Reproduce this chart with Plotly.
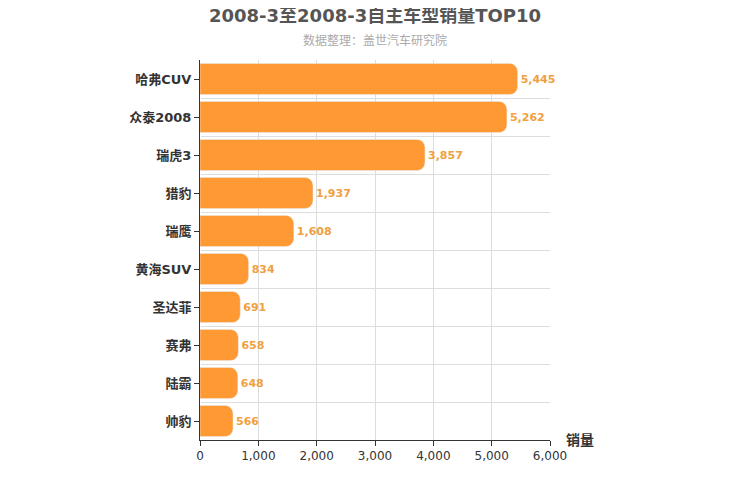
import plotly.graph_objects as go

models = ["哈弗CUV", "众泰2008", "瑞虎3", "猎豹", "瑞鹰", "黄海SUV", "圣达菲", "赛弗", "陆霸", "帅豹"]
sales = [5445, 5262, 3857, 1937, 1608, 834, 691, 658, 648, 566]
xticks = [0, 1000, 2000, 3000, 4000, 5000, 6000]
xticktext = ["0", "1,000", "2,000", "3,000", "4,000", "5,000", "6,000"]

n = len(models)
ypos = list(range(n - 1, -1, -1))

fig = go.Figure(go.Bar(
    x=sales, y=ypos, orientation="h",
    marker=dict(color="#FF9933", cornerradius=8),
    width=0.82,
    text=[f"{v:,}" for v in sales], textposition="outside",
    textfont=dict(color="#F0A040", size=11, family="DejaVu Sans", weight="bold"),
    cliponaxis=False,
))
fig.update_layout(
    width=750, height=500, plot_bgcolor="white", paper_bgcolor="white",
    margin=dict(l=192, r=208, t=52, b=68),
    font=dict(family="DejaVu Sans, Noto Sans CJK SC", color="#333"),
    showlegend=False,
)
fig.update_xaxes(range=[0, 6000], tickvals=xticks, ticktext=xticktext,
                 showgrid=True, gridcolor="#DDDDDD", showline=True, linecolor="#333",
                 ticks="outside", ticklen=5, tickcolor="#333",
                 tickfont=dict(size=12, color="#333"))
fig.update_yaxes(range=[-0.5, n - 0.5], tickvals=ypos, ticktext=models,
                 showgrid=False, showline=True, linecolor="#333",
                 ticks="outside", ticklen=5, tickcolor="#333",
                 tickfont=dict(size=13, color="#333", weight="bold"),
                 minor=dict(tick0=0.5, dtick=1, showgrid=True, gridcolor="#DDDDDD"),
                 zeroline=False)
fig.add_annotation(text="<b>2008-3至2008-3自主车型销量TOP10</b>", xref="paper", yref="paper",
                   x=0.5, y=1.118, xanchor="center", yanchor="middle", showarrow=False,
                   font=dict(size=18, color="#555"))
fig.add_annotation(text="数据整理：盖世汽车研究院", xref="paper", yref="paper",
                   x=0.5, y=1.05, xanchor="center", yanchor="middle", showarrow=False,
                   font=dict(size=12, color="#AAAAAA"))
fig.add_annotation(text="<b>销量</b>", xref="paper", yref="paper", x=1.04, y=0,
                   xanchor="left", yanchor="middle", showarrow=False,
                   font=dict(size=14, color="#333"))
fig.write_html("out.html")
